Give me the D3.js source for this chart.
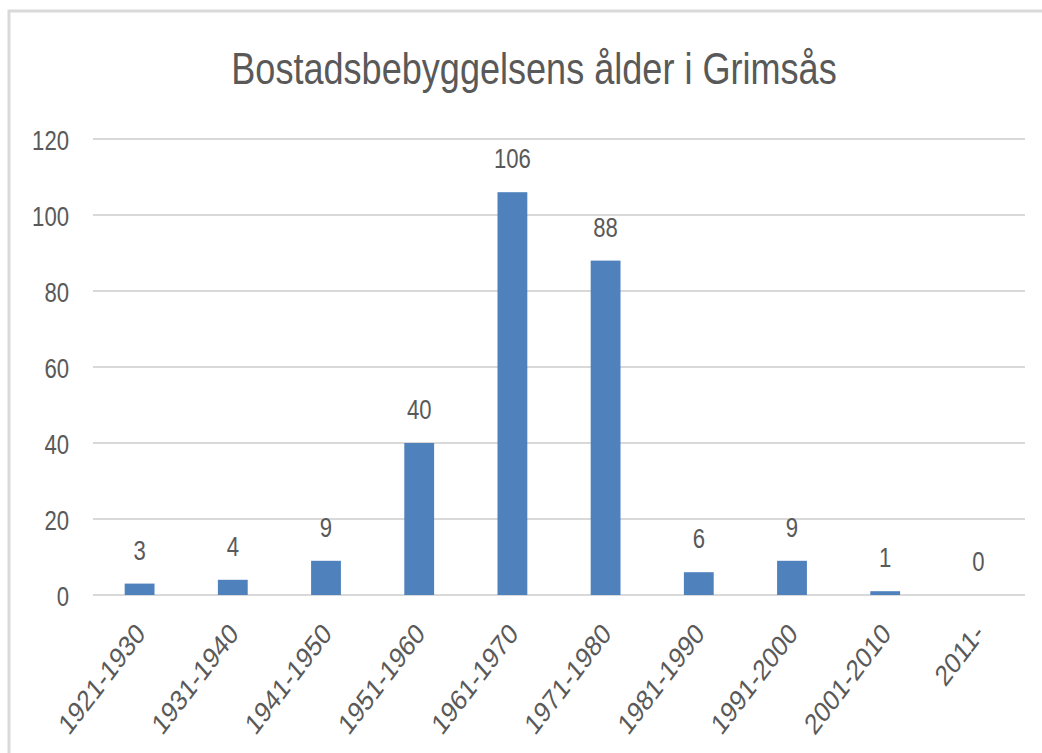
<!DOCTYPE html>
<html>
<head>
<meta charset="utf-8">
<script src="https://cdn.jsdelivr.net/npm/d3@7"></script>
<style>
  html, body { margin: 0; padding: 0; background: #fff; }
  svg { display: block; }
  text { font-family: "Liberation Sans", "Open Sans", sans-serif; fill: #595959; }
</style>
</head>
<body>
<div id="chart"></div>
<script>
// chart data
const title = 'Bostadsbebyggelsens ålder i Grimsås';
const periods = ['1921-1930', '1931-1940', '1941-1950', '1951-1960', '1961-1970', '1971-1980', '1981-1990', '1991-2000', '2001-2010', '2011-'];
const houses = [3, 4, 9, 40, 106, 88, 6, 9, 1, 0];
const yTicks = [0, 20, 40, 60, 80, 100, 120];

const width = 1042;
const height = 753;
const margin = { top: 139, right: 17, bottom: 158, left: 93 };
const squeeze = 0.82; // text in the picture looks horizontally narrowed

const svg = d3.select('#chart').append('svg')
    .attr('width', width)
    .attr('height', height);

// chart frame (only the top and left edges are visible)
svg.append('path')
    .attr('d', 'M9,' + height + 'V11H' + width)
    .attr('fill', 'none')
    .attr('stroke', '#d9d9d9')
    .attr('stroke-width', 3);

svg.append('text')
    .attr('transform', 'translate(534,84) scale(' + squeeze + ',1)')
    .attr('text-anchor', 'middle')
    .style('font-size', '44px')
    .text(title);

const x = d3.scaleBand()
    .domain(periods)
    .range([margin.left, width - margin.right])
    .paddingInner(0.68)
    .paddingOuter(0.34);

const y = d3.scaleLinear()
    .domain([0, 120])
    .range([height - margin.bottom, margin.top]);

// gridlines
svg.append('g')
    .selectAll('line')
    .data(yTicks)
    .enter()
    .append('line')
    .attr('x1', margin.left)
    .attr('x2', width - margin.right)
    .attr('y1', function (d) { return y(d); })
    .attr('y2', function (d) { return y(d); })
    .attr('stroke', '#d9d9d9')
    .attr('stroke-width', 2);

// y axis labels
const yAxis = svg.append('g')
    .attr('transform', 'translate(' + (margin.left - 24) + ',0)')
    .call(d3.axisLeft(y).tickValues(yTicks).tickSize(0).tickPadding(0));
yAxis.select('.domain').remove();
yAxis.selectAll('text')
    .attr('x', null)
    .attr('y', null)
    .attr('dy', null)
    .attr('transform', 'translate(0,10) scale(' + squeeze + ',1)')
    .style('font-size', '27px')
    .style('font-family', null)
    .attr('fill', null);

// bars
svg.append('g')
    .selectAll('rect')
    .data(houses)
    .enter()
    .append('rect')
    .attr('x', function (d, i) { return x(periods[i]); })
    .attr('y', function (d) { return y(d); })
    .attr('width', x.bandwidth())
    .attr('height', function (d) { return y(0) - y(d); })
    .attr('fill', '#4f81bd');

// value labels
svg.append('g')
    .selectAll('text')
    .data(houses)
    .enter()
    .append('text')
    .attr('transform', function (d, i) {
        return 'translate(' + (x(periods[i]) + x.bandwidth() / 2) + ',' + (y(d) - 24) + ') scale(' + squeeze + ',1)';
    })
    .attr('text-anchor', 'middle')
    .style('font-size', '27px')
    .text(function (d) { return d; });

// rotated category labels
const xAxis = svg.append('g')
    .attr('transform', 'translate(0,' + y(0) + ')')
    .call(d3.axisBottom(x).tickSize(0).tickPadding(0));
xAxis.select('.domain').remove();
xAxis.selectAll('text')
    .attr('y', null)
    .attr('dy', null)
    .attr('text-anchor', 'end')
    .attr('transform', 'translate(7,40) scale(' + squeeze + ',1) rotate(-47)')
    .style('font-size', '29px')
    .style('font-family', null)
    .attr('fill', null);
</script>
</body>
</html>
